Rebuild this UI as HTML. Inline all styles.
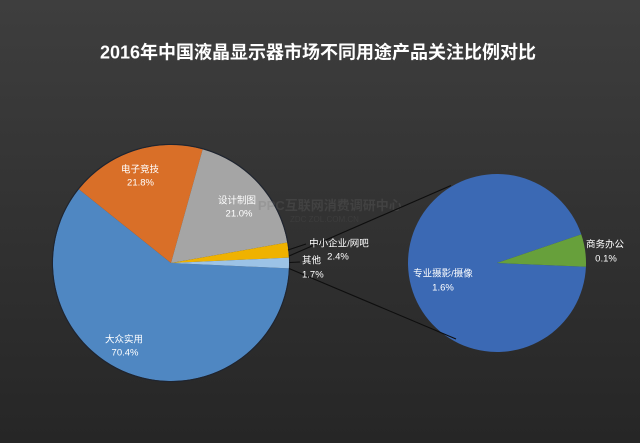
<!DOCTYPE html>
<html>
<head>
<meta charset="utf-8">
<style>
  html,body{margin:0;padding:0;}
  body{width:640px;height:443px;overflow:hidden;background:linear-gradient(to bottom,#3e3e3e 0%,#333333 45%,#262626 100%);}
  svg{display:block;}
  text{font-family:"Liberation Sans","Noto Sans CJK SC",sans-serif;fill:#ffffff;}
</style>
</head>
<body>
<svg width="640" height="443" viewBox="0 0 640 443" xmlns="http://www.w3.org/2000/svg">
  <!-- title -->
  <text x="318" y="58.5" text-anchor="middle" font-size="18" font-weight="bold">2016年中国液晶显示器市场不同用途产品关注比例对比</text>

  <!-- main pie -->
  <g stroke="none">
    <path d="M171 263 L288.88 268.37 A118 118 0 1 1 78.87 189.26 Z" fill="#4f87c2"/>
    <path d="M171 263 L78.87 189.26 A118 118 0 0 1 202.67 149.33 Z" fill="#d96f28"/>
    <path d="M171 263 L202.67 149.33 A118 118 0 0 1 287.21 242.55 Z" fill="#a5a5a5"/>
    <path d="M171 263 L287.21 242.55 A118 118 0 0 1 288.88 257.63 Z" fill="#efb200"/>
    <path d="M171 263 L288.88 257.63 A118 118 0 0 1 288.88 268.37 Z" fill="#9cc3e6"/>
  </g>
  <circle cx="171" cy="263" r="118.6" fill="none" stroke="#1e2430" stroke-width="1"/>

  <!-- watermark -->
  <text x="258" y="210" font-size="13" font-weight="bold" style="fill:rgba(110,110,110,0.25)">PPC互联网消费调研中心</text>
  <text x="290" y="222" font-size="8" style="fill:rgba(110,110,110,0.18)">ZDC ZOL.COM.CN</text>

  <!-- secondary pie -->
  <g stroke="none">
    <path d="M497 263 L585.92 266.73 A89 89 0 1 1 581.25 234.32 Z" fill="#3b69b4"/>
    <path d="M497 263 L581.25 234.32 A89 89 0 0 1 585.92 266.73 Z" fill="#67a03b"/>
  </g>

  <!-- connector lines -->
  <g stroke="#0e0e0e" stroke-width="1.1" fill="none">
    <line x1="289" y1="256" x2="451" y2="185.5"/>
    <line x1="289" y1="268.5" x2="456" y2="339"/>
    <line x1="288" y1="250" x2="306" y2="244"/>
    <line x1="289.5" y1="262.5" x2="300" y2="262"/>
  </g>

  <!-- labels -->
  <g font-size="9.5" text-anchor="middle">
    <text x="140" y="172.5">电子竞技</text>
    <text x="140.5" y="185.5">21.8%</text>
    <text x="237" y="203.5">设计制图</text>
    <text x="239" y="216.5">21.0%</text>
    <text x="339" y="246.5">中小企业/网吧</text>
    <text x="338" y="259.5">2.4%</text>
    <text x="124" y="342.5">大众实用</text>
    <text x="125" y="355.5">70.4%</text>
    <text x="443" y="276.5">专业摄影/摄像</text>
    <text x="443" y="290.5">1.6%</text>
    <text x="605" y="247.5">商务办公</text>
    <text x="606" y="261.5">0.1%</text>
  </g>
  <g font-size="9.5" text-anchor="start">
    <text x="302" y="263.5">其他</text>
    <text x="302" y="277.5">1.7%</text>
  </g>
</svg>
</body>
</html>
